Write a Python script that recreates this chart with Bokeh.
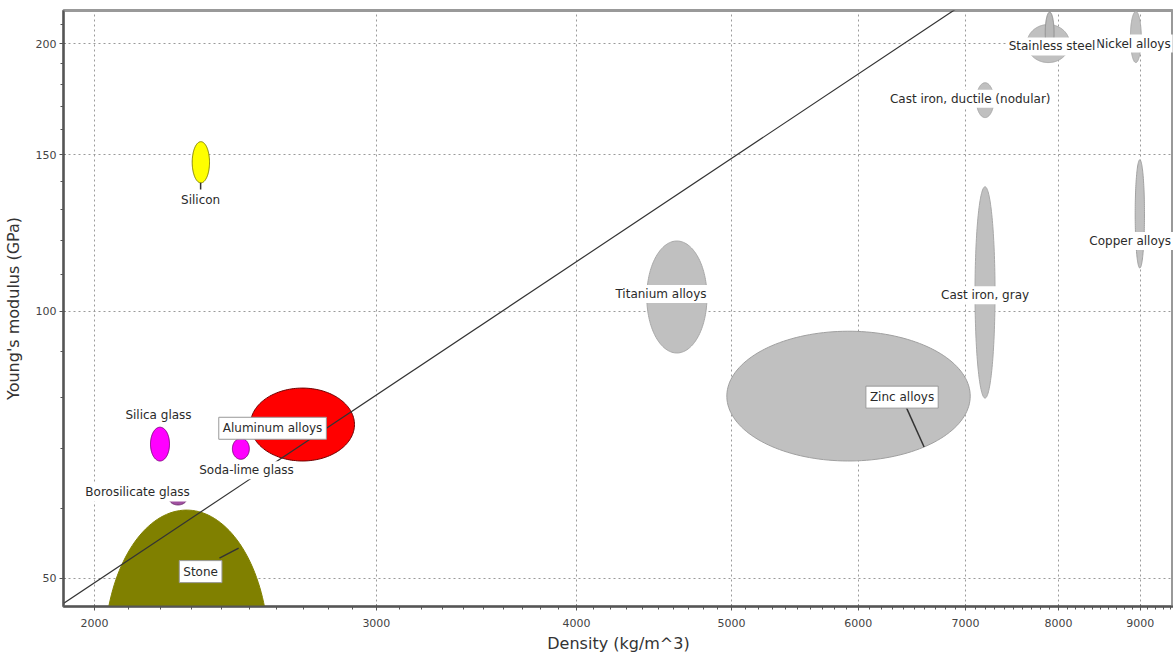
import numpy as np
from bokeh.plotting import figure
from bokeh.models import ColumnDataSource, FixedTicker, NumeralTickFormatter, Range1d
from bokeh.embed import file_html
from bokeh.resources import INLINE
from bokeh.core.properties import value

# ---------------- data ----------------
materials = ["Stone", "Silicon", "Silica glass", "Soda-lime glass", "Borosilicate glass",
             "Aluminum alloys", "Titanium alloys", "Zinc alloys", "Cast iron, gray",
             "Cast iron, ductile (nodular)", "Stainless steel", "Steel (unlabelled)",
             "Nickel alloys", "Copper alloys"]
density_low = [2029, 2302, 2168, 2439, 2228, 2503, 4426, 4966, 7096, 7110, 7647, 7850, 8873, 8934]
density_high = [2570, 2360, 2228, 2499, 2283, 2907, 4826, 7047, 7303, 7290, 8129, 7950, 9012, 9054]
modulus_low = [28.6, 139.4, 67.8, 68.1, 60.5, 67.8, 89.7, 67.8, 79.8, 165.1, 190.4, 195.0, 190.4, 111.8]
modulus_high = [59.7, 155.1, 74.0, 71.9, 62.3, 81.9, 119.9, 94.9, 138.0, 180.7, 210.1, 217.0, 217.3, 148.0]
fill_colors = ["#808000", "#ffff00", "#ff00ff", "#ff00ff", "#a050a0", "#ff0000", "#c0c0c0",
               "#c0c0c0", "#c0c0c0", "#c0c0c0", "#c0c0c0", "#b8b8b8", "#c0c0c0", "#c0c0c0"]
line_colors = ["#808000", "#808000", "#800080", "#800080", "#703070", "#700000", "#a8a8a8",
               "#a0a0a0", "#a8a8a8", "#a8a8a8", "#a8a8a8", "#909090", "#a8a8a8", "#a0a0a0"]

label_text = ["Silicon", "Silica glass", "Soda-lime glass", "Borosilicate glass",
              "Titanium alloys", "Cast iron, gray", "Cast iron, ductile (nodular)",
              "Copper alloys", "Nickel alloys", "Stainless steel"]
label_density = [2330, 2193, 2489, 2128, 4517, 7199, 7047, 8870, 8910, 7927]
label_modulus = [133.4, 76.3, 66.2, 62.5, 104.5, 104.2, 173.4, 119.9, 200.0, 198.5]

boxed_text = ["Aluminum alloys", "Zinc alloys", "Stone"]
boxed_density = [2584, 6389, 2330]
boxed_modulus = [73.8, 80.0, 50.9]

# leader lines (label -> region)
leader_x0 = [2394, 6426, 2330]
leader_y0 = [52.7, 78.0, 139.4]
leader_x1 = [2461, 6595, 2330]
leader_y1 = [54.1, 70.3, 137.0]

# guide line
guide_density = [1900, 7200]
guide_modulus = [46.5, 230.1]

x_major = [2000, 3000, 4000, 5000, 6000, 7000, 8000, 9000]
x_minor = list(range(2000, 9500, 100))
y_major = [50, 100, 150, 200]
y_minor = list(range(50, 220, 10))

# ---------------- ellipse outlines in log space ----------------
t = np.linspace(0, 2 * np.pi, 160)
xs, ys = [], []
for dl, dh, ml, mh in zip(density_low, density_high, modulus_low, modulus_high):
    lx0, lx1 = np.log10(dl), np.log10(dh)
    ly0, ly1 = np.log10(ml), np.log10(mh)
    xs.append(list(10 ** ((lx0 + lx1) / 2 + (lx1 - lx0) / 2 * np.cos(t))))
    ys.append(list(10 ** ((ly0 + ly1) / 2 + (ly1 - ly0) / 2 * np.sin(t))))

src = ColumnDataSource(dict(xs=xs, ys=ys, fill=fill_colors, line=line_colors, name=materials))

FONT = value("DejaVu Sans")

p = figure(width=1173, height=658, x_axis_type="log", y_axis_type="log",
           x_range=Range1d(1913, 9440), y_range=Range1d(46.5, 217.9),
           output_backend="svg", toolbar_location=None,
           min_border_left=62, min_border_right=0, min_border_top=10, min_border_bottom=52,
           background_fill_color="white", border_fill_color="white")

p.patches("xs", "ys", source=src, fill_color="fill", line_color="line", line_width=1)

p.line(guide_density, guide_modulus, line_color="#333333", line_width=1.2)
p.segment(x0=leader_x0, y0=leader_y0, x1=leader_x1, y1=leader_y1, line_color="#333333", line_width=1.5)

lsrc = ColumnDataSource(dict(x=label_density, y=label_modulus, text=label_text))
p.text("x", "y", text="text", source=lsrc, text_font=FONT, text_font_size="12px",
       text_color="#2a2a2a", text_align="center", text_baseline="middle",
       background_fill_color="white", padding=2)

bsrc = ColumnDataSource(dict(x=boxed_density, y=boxed_modulus, text=boxed_text))
p.text("x", "y", text="text", source=bsrc, text_font=FONT, text_font_size="12px",
       text_color="#2a2a2a", text_align="center", text_baseline="middle",
       background_fill_color="white", border_line_color="#999999", padding=4)

# axes
p.xaxis.ticker = FixedTicker(ticks=x_major, minor_ticks=x_minor)
p.yaxis.ticker = FixedTicker(ticks=y_major, minor_ticks=y_minor)
p.xaxis.formatter = NumeralTickFormatter(format="0")
p.yaxis.formatter = NumeralTickFormatter(format="0")
for ax in (p.xaxis[0], p.yaxis[0]):
    ax.axis_line_color = "#555555"
    ax.axis_line_width = 2
    ax.major_tick_line_color = "#555555"
    ax.minor_tick_line_color = "#555555"
    ax.major_tick_in = 2
    ax.major_tick_out = 4
    ax.minor_tick_in = 0
    ax.minor_tick_out = 3
    ax.major_label_text_font = "DejaVu Sans"
    ax.major_label_text_font_size = "11px"
    ax.major_label_text_color = "#444444"
    ax.axis_label_text_font = "DejaVu Sans"
    ax.axis_label_text_font_size = "16px"
    ax.axis_label_text_font_style = "normal"
    ax.axis_label_text_color = "#333333"
p.xaxis.axis_label = "Density (kg/m^3)"
p.yaxis.axis_label = "Young's modulus (GPa)"
p.xaxis.major_label_standoff = 8
p.xaxis.axis_label_standoff = 4
p.yaxis.major_label_standoff = 3
p.yaxis.axis_label_standoff = 10

p.grid.grid_line_color = "#9a9a9a"
p.grid.grid_line_dash = "2 3"
p.grid.grid_line_width = 1

p.outline_line_color = "#999999"
p.outline_line_width = 3

open("out.html", "w").write(file_html(p, INLINE))
